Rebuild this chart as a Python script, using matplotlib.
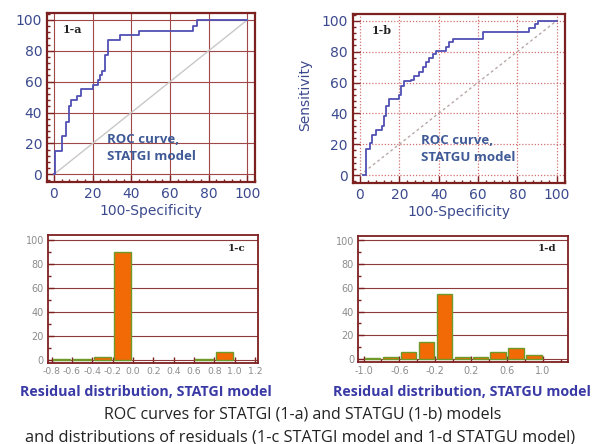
import matplotlib
matplotlib.use('Agg')
import matplotlib.pyplot as plt
from matplotlib.ticker import MultipleLocator

plt.rcParams['axes.unicode_minus'] = False

# ROC curve 1-a (STATGI), step corners: x = 100-specificity, y = sensitivity
roc_a_x = [0, 0.5, 4, 6, 8, 9, 12, 14, 20, 22.5, 24, 25, 26.5, 28, 34, 44, 72, 74, 100]
roc_a_y = [0, 15, 25, 34, 44, 48, 51, 55, 58, 61, 64, 67, 77, 87, 90, 93, 96, 100, 100]

# ROC curve 1-b (STATGU)
roc_b_x = [1.5, 3, 5, 6.3, 8, 11, 12.3, 13.5, 14.8, 20, 20.8, 22.5, 26, 27.6, 30, 32.2,
           33.6, 35.3, 37, 38.7, 43.8, 45.5, 47.5, 62.5, 86, 89, 90.6, 100]
roc_b_y = [0, 17, 21, 26, 29, 32, 38, 45, 49.5, 52, 58, 60.7, 61.7, 64, 67, 70,
           73, 76, 78.5, 80.6, 83, 86, 88, 92.6, 95.4, 98, 100, 100]

# residual histograms (bin centres, percent)
res_c_bins = [-0.7, -0.5, -0.3, -0.1, 0.1, 0.3, 0.5, 0.7, 0.9, 1.1]
res_c_vals = [0.8, 0.8, 3, 90, 0, 0, 0, 0.8, 7, 0]
res_d_bins = [-0.9, -0.7, -0.5, -0.3, -0.1, 0.1, 0.3, 0.5, 0.7, 0.9]
res_d_vals = [1, 1.4, 6, 14, 55, 1.2, 2, 6, 9, 3]

c_ticks = [-0.8, -0.6, -0.4, -0.2, 0.0, 0.2, 0.4, 0.6, 0.8, 1.0, 1.2]
d_ticks = [-1.0, -0.6, -0.2, 0.2, 0.6, 1.0]

maroon = '#7d2020'
navy = '#3b4a8e'
blue_txt = '#3f5a96'
res_blue = '#3a3aa6'
gray = '#8c8c8c'

fig = plt.figure(figsize=(5.93, 4.44), dpi=100)


def roc_axes(rect, xs, ys, dotted):
    ax = fig.add_axes(rect)
    ax.set_xlim(-3.6, 104)
    ax.set_ylim(-5, 104.5)
    ax.xaxis.set_major_locator(MultipleLocator(20))
    ax.yaxis.set_major_locator(MultipleLocator(20))
    ax.xaxis.set_minor_locator(MultipleLocator(4))
    ax.yaxis.set_minor_locator(MultipleLocator(4))
    ax.tick_params(which='both', direction='in', color=maroon, labelcolor=navy,
                   labelsize=10, width=1)
    ax.tick_params(which='major', length=5)
    ax.tick_params(which='minor', length=2.5)
    for s in ax.spines.values():
        s.set_color(maroon)
        s.set_linewidth(1.6)
    if dotted:
        ax.grid(True, which='major', color='#d27070', linestyle=(0, (1, 1.5)), linewidth=0.9)
        ax.plot([0, 100], [0, 100], color='#b8a8a8', linestyle=(0, (2, 2)), linewidth=1)
    else:
        ax.grid(True, which='major', color='#a04848', linestyle='-', linewidth=0.8)
        ax.plot([0, 100], [0, 100], color='#c8c8c8', linewidth=1)
    ax.plot(xs, ys, drawstyle='steps-post', color='#5050b4', linewidth=1.3)
    ax.set_xlabel('100-Specificity', fontsize=10, color=navy, labelpad=2)
    return ax


ax_a = roc_axes([0.0793, 0.590, 0.351, 0.381], roc_a_x, roc_a_y, False)
ax_a.text(0.075, 0.9, '1-a', transform=ax_a.transAxes, fontsize=8, fontweight='bold',
          family='DejaVu Serif', color='#222222', va='center')
ax_a.text(0.29, 0.2, 'ROC curve,\nSTATGI model', transform=ax_a.transAxes, fontsize=9.5,
          fontweight='bold', family='Open Sans', color=blue_txt, va='center',
          linespacing=1.4)

ax_b = roc_axes([0.595, 0.588, 0.357, 0.381], roc_b_x, roc_b_y, True)
ax_b.text(0.09, 0.9, '1-b', transform=ax_b.transAxes, fontsize=8, fontweight='bold',
          family='DejaVu Serif', color='#222222', va='center')
ax_b.text(0.32, 0.2, 'ROC curve,\nSTATGU model', transform=ax_b.transAxes, fontsize=9.5,
          fontweight='bold', family='Open Sans', color=blue_txt, va='center',
          linespacing=1.4)
fig.text(305 / 593, 1 - 95 / 444, 'Sensitivity', rotation=90, fontsize=10, color=navy,
         ha='center', va='center')


def hist_axes(rect, centres, vals, xlim, ticks, tag, label_size):
    ax = fig.add_axes(rect)
    ax.set_xlim(*xlim)
    ax.set_ylim(-2.5, 104)
    ax.set_axisbelow(True)
    ax.yaxis.grid(True, color='#8e3a3a', linewidth=0.8)
    # empty bins are not drawn
    xs = [c for c, v in zip(centres, vals) if v > 0]
    hs = [v for v in vals if v > 0]
    ax.bar(xs, hs, width=0.17, color='#f26a05', edgecolor='#6f9a2a', linewidth=1)
    ax.set_xticks(ticks)
    ax.set_xticklabels(['%.1f' % t for t in ticks])
    ax.xaxis.set_minor_locator(MultipleLocator(0.2))
    ax.set_yticks([0, 20, 40, 60, 80, 100])
    ax.yaxis.set_minor_locator(MultipleLocator(10))
    ax.tick_params(which='both', direction='in', color=maroon, labelcolor=gray, width=1)
    ax.tick_params(axis='x', labelsize=label_size, pad=3)
    ax.tick_params(axis='y', labelsize=7, pad=3)
    ax.tick_params(which='major', length=4)
    ax.tick_params(which='minor', length=2)
    for s in ax.spines.values():
        s.set_color(maroon)
        s.set_linewidth(1.3)
    ax.text(0.9, 0.9, tag, transform=ax.transAxes, fontsize=7.5, fontweight='bold',
            family='DejaVu Serif', color='#222222', ha='center', va='center')
    return ax


ax_c = hist_axes([0.081, 0.182, 0.354, 0.288], res_c_bins, res_c_vals, (-0.835, 1.23),
                 c_ticks, '1-c', 6.7)
ax_d = hist_axes([0.604, 0.185, 0.354, 0.284], res_d_bins, res_d_vals, (-1.06, 1.28),
                 d_ticks, '1-d', 7)

fig.text(146 / 593, 1 - 392 / 444, 'Residual distribution, STATGI model', fontsize=10.3,
         fontweight='bold', family='Open Sans', color=res_blue, ha='center', va='center')
fig.text(462 / 593, 1 - 392 / 444, 'Residual distribution, STATGU model', fontsize=10.3,
         fontweight='bold', family='Open Sans', color=res_blue, ha='center', va='center')

fig.text(0.51, 1 - 414 / 444, 'ROC curves for STATGI (1-a) and STATGU (1-b) models',
         fontsize=11.5, family='Open Sans', color='#222222', ha='center', va='center')
fig.text(0.506, 1 - 437 / 444,
         'and distributions of residuals (1-c STATGI model and 1-d STATGU model)',
         fontsize=11.8, family='Open Sans', color='#222222', ha='center', va='center')

fig.savefig('out.png', dpi=100, facecolor='white')
